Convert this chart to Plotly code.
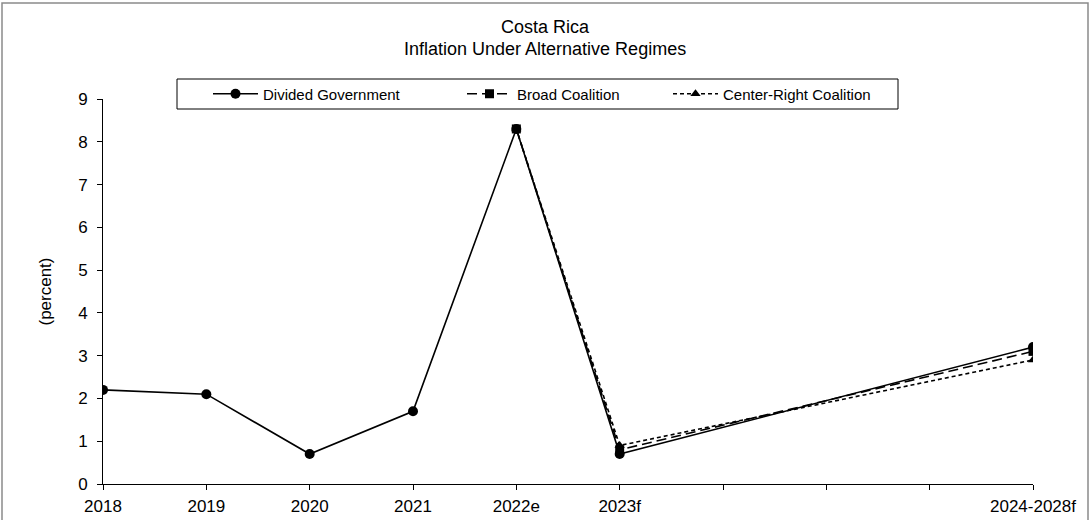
import plotly.graph_objects as go

# Category axis: three unlabeled slots between the 2023 forecast and the 2024-2028 average
categories = ["2018", "2019", "2020", "2021", "2022e", "2023f", "", "", "", "2024-2028f"]

divided_government = [2.2, 2.1, 0.7, 1.7, 8.3, 0.7, None, None, None, 3.2]
broad_coalition = [None, None, None, None, 8.3, 0.8, None, None, None, 3.1]
center_right_coalition = [None, None, None, None, 8.3, 0.9, None, None, None, 2.9]

y_ticks = list(range(0, 10))

title_lines = ["Costa Rica", "Inflation Under Alternative Regimes"]

x_pos = list(range(len(categories)))

FONT = "Liberation Sans, Arial, sans-serif"

# plot area spans x 103..1033, y 99..484 in a 1091x520 page
L, R, T, B = 103, 58, 99, 36
W, H = 1091, 520
pw, ph = W - L - R, H - T - B


def px_to_paper_x(px):
    return (px - L) / pw


def px_to_paper_y(py):
    return (H - B - py) / ph


fig = go.Figure()

fig.add_trace(go.Scatter(
    x=x_pos, y=divided_government, name="Divided Government",
    mode="lines+markers", connectgaps=True, legend="legend",
    line=dict(color="black", width=1.6, dash="solid"),
    marker=dict(symbol="circle", size=10, color="black"),
))
fig.add_trace(go.Scatter(
    x=x_pos, y=broad_coalition, name="Broad Coalition",
    mode="lines+markers", connectgaps=True, legend="legend2",
    line=dict(color="black", width=1.6, dash="10px,5px"),
    marker=dict(symbol="square", size=9, color="black"),
))
fig.add_trace(go.Scatter(
    x=x_pos, y=center_right_coalition, name="Center-Right Coalition",
    mode="lines+markers", connectgaps=True, legend="legend3",
    line=dict(color="black", width=1.6, dash="4px,3px"),
    marker=dict(symbol="triangle-up", size=9, color="black"),
))


def legend_at(px_left):
    return dict(
        orientation="h",
        x=px_to_paper_x(px_left), xanchor="left",
        y=px_to_paper_y(94), yanchor="middle",
        borderwidth=0, bgcolor="rgba(0,0,0,0)",
        font=dict(family=FONT, size=15, color="black"),
        itemwidth=45,
    )


annotations = [
    dict(text=title_lines[0], xref="paper", yref="paper",
         x=px_to_paper_x(545), y=px_to_paper_y(27),
         xanchor="center", yanchor="middle", showarrow=False,
         font=dict(family=FONT, size=18, color="black")),
    dict(text=title_lines[1], xref="paper", yref="paper",
         x=px_to_paper_x(545), y=px_to_paper_y(49),
         xanchor="center", yanchor="middle", showarrow=False,
         font=dict(family=FONT, size=18, color="black")),
]

fig.update_layout(
    width=W, height=H,
    margin=dict(l=L, r=R, t=T, b=B, autoexpand=False),
    paper_bgcolor="white", plot_bgcolor="white",
    font=dict(family=FONT, color="black", size=17),
    showlegend=True,
    legend=legend_at(208),
    legend2=legend_at(462),
    legend3=legend_at(668),
    annotations=annotations,
    xaxis=dict(
        range=[0, len(categories) - 1],
        tickmode="array", tickvals=x_pos, ticktext=categories,
        showline=True, linecolor="black", linewidth=1,
        ticks="outside", ticklen=5, tickcolor="black",
        showgrid=False, zeroline=False, automargin=False,
        tickfont=dict(size=17),
        ticklabelstandoff=2,
    ),
    yaxis=dict(
        range=[0, 9],
        tickmode="array", tickvals=y_ticks,
        showline=True, linecolor="black", linewidth=1,
        ticks="outside", ticklen=5, tickcolor="black",
        showgrid=False, zeroline=False, automargin=False,
        tickfont=dict(size=17),
        ticklabelstandoff=6,
        title=dict(text="(percent)", standoff=22, font=dict(size=17)),
    ),
    shapes=[
        # outer chart frame (bottom edge runs off the page)
        dict(type="rect", xref="paper", yref="paper",
             x0=px_to_paper_x(2), x1=px_to_paper_x(1088),
             y0=px_to_paper_y(540), y1=px_to_paper_y(3),
             line=dict(color="#8a8a8a", width=1.5), fillcolor="rgba(0,0,0,0)",
             layer="below"),
        # legend frame
        dict(type="rect", xref="paper", yref="paper",
             x0=px_to_paper_x(177), x1=px_to_paper_x(898),
             y0=px_to_paper_y(109), y1=px_to_paper_y(79),
             line=dict(color="black", width=1), fillcolor="white",
             layer="below"),
    ],
)

fig.write_html("out.html")
